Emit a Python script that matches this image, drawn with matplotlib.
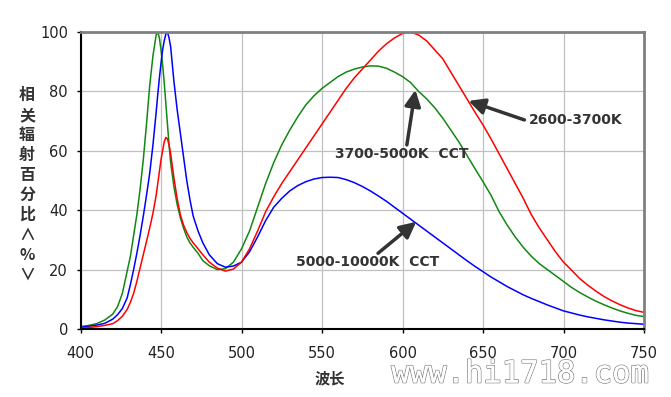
import matplotlib.pyplot as plt
import matplotlib.patheffects as pe

# wavelength grid (nm)
wl = [400, 405, 410, 415, 420, 423, 426, 429, 431, 433, 435, 437, 439, 441, 443, 445,
      447, 448, 449, 450, 451, 452, 453, 454, 455, 456, 458, 460, 462, 464, 466, 468,
      470, 473, 476, 480, 485, 490, 495, 500,
      505, 510, 515, 520, 525, 530, 535, 540, 545, 550, 555, 560, 565, 570, 575, 580,
      585, 590, 595, 600, 605, 610, 615, 620, 625, 630, 635, 640, 645, 650, 655, 660,
      665, 670, 675, 680, 685, 690, 695, 700, 705, 710, 715, 720, 725, 730, 735, 740,
      745, 750]

# 2600-3700K
red = [0.3, 0.5, 0.8, 1.2, 1.8, 2.8, 4.3, 6.6, 9, 12, 16, 20.5, 25, 29.5, 34, 39,
       45, 49, 53, 57, 60, 63, 64.5, 64, 62, 59, 51, 44, 38.5, 35, 32.5, 30.5,
       29, 27, 25, 22.5, 20.5, 19.5, 20.2, 22.5,
       27, 33, 39.5, 44.5, 49, 53, 57, 61, 65, 69, 73, 77, 81, 84.5, 87.5, 90.5,
       93.5, 96, 98, 99.5, 100, 99, 97, 94, 91, 86.5, 82, 77.5, 73, 68.7, 64, 59,
       54, 49, 44, 38.5, 34, 30, 26, 22.5, 19.8, 17, 14.8, 12.8, 11, 9.5, 8.2, 7.1,
       6.2, 5.6]

# 3700-5000K CCT
green = [0.8, 1.2, 1.8, 3.0, 5.0, 7.5, 12, 19.5, 24.5, 31.5, 38.5, 47, 57, 69, 82, 92,
         99, 100, 98, 94, 89, 83, 76, 69, 62, 56, 48, 42, 37.5, 34, 31, 29,
         27.5, 25.5, 23, 21.3, 20, 20.3, 22.5, 27,
         33, 41, 49, 56, 62, 67, 71.5, 75.5, 78.5, 81, 83, 85, 86.5, 87.5, 88.2, 88.6,
         88.5, 87.8, 86.5, 85, 83, 80, 77.5, 74.5, 71, 67, 63, 58.5, 54, 49.6, 45, 39.5,
         35, 31, 27.5, 24.5, 22, 20, 18, 16, 14, 12.3, 10.8, 9.4, 8.2, 7.1, 6.1, 5.3,
         4.6, 4.2]

# 5000-10000K CCT
blue = [0.6, 0.9, 1.3, 1.9, 3.3, 4.8, 6.9, 10.5, 15, 20, 25.5, 31.5, 38, 45, 52.5, 62,
        73, 79, 84.5, 89.5, 94, 97, 99.3, 100, 98, 95, 83.5, 74, 66, 58, 50, 43.5,
        38, 33, 29, 25, 22, 20.8, 21.2, 22.5,
        26, 31, 36.5, 41, 44, 46.5, 48.3, 49.6, 50.5, 51, 51.1, 51, 50.3, 49.3, 48, 46.5,
        44.8, 43, 41, 39, 37, 35, 33, 31, 29, 27, 25, 23, 21.1, 19.3, 17.5, 15.9,
        14.3, 12.9, 11.5, 10.3, 9.2, 8.1, 7.1, 6.1, 5.4, 4.7, 4.1, 3.6, 3.1, 2.7, 2.3, 2.0,
        1.8, 1.6]

xticks = [400, 450, 500, 550, 600, 650, 700, 750]
yticks = [0, 20, 40, 60, 80, 100]
ylabel_chars = ["相", "关", "辐", "射", "百", "分", "比", "∧", "%", "∨"]

cjk = ["Noto Sans CJK SC", "DejaVu Sans"]

fig = plt.figure(figsize=(6.71, 3.97), dpi=100)
ax = fig.add_axes([80.5 / 671, 1 - 329 / 397, (644 - 80.5) / 671, (329 - 32) / 397])

ax.plot(wl, green, color="#118811", lw=1.1)
ax.plot(wl, blue, color="#0000ff", lw=1.1)
ax.plot(wl, red, color="#ff0000", lw=1.1)

ax.set_xlim(400, 750)
ax.set_ylim(0, 100)
ax.set_xticks(xticks)
ax.set_yticks(yticks)
ax.grid(True, color="#c0c0c0", lw=0.9)
ax.set_axisbelow(True)
ax.tick_params(axis="both", direction="out", length=3, width=1, labelsize=10.5,
               labelcolor="#222222")
ax.tick_params(axis="y", pad=6)
ax.tick_params(axis="x", pad=9)
for s in ["left", "bottom"]:
    ax.spines[s].set_color("black")
    ax.spines[s].set_linewidth(1.5)
for s in ["top", "right"]:
    ax.spines[s].set_color("#808080")
    ax.spines[s].set_linewidth(2)

# curve labels with arrows
txt = dict(fontsize=10, fontweight="bold", color="#333333", va="center", ha="left")
arr = dict(arrowstyle="-|>,head_length=0.8,head_width=0.4", color="#333333", lw=2.5,
           mutation_scale=12, shrinkA=0, shrinkB=0)
ax.text(678.8, 70.4, "2600-3700K", **txt)
ax.annotate("", xy=(641, 76.8), xytext=(675.7, 70.4), arrowprops=arr)
ax.text(558.3, 58.8, "3700-5000K  CCT", **txt)
ax.annotate("", xy=(608, 80.5), xytext=(602.7, 62), arrowprops=arr)
ax.text(534.1, 22.7, "5000-10000K  CCT", **txt)
ax.annotate("", xy=(608.5, 36.1), xytext=(584.8, 25.5), arrowprops=arr)

# axis titles
fig.text(330 / 671, 1 - 378 / 397, "波长", family=cjk, fontsize=11, fontweight="bold",
         color="#333333", ha="center", va="center")
for i, ch in enumerate(ylabel_chars):
    fig.text(27 / 671, 1 - (95 + 20 * i) / 397, ch, family=cjk, fontsize=11.5,
             fontweight="bold", color="#333333", ha="center", va="center")

# watermark
fig.text(520 / 671, 1 - 374 / 397, "www.hi1718.com", family="DejaVu Sans Mono",
         fontsize=22, color="white", ha="center", va="center",
         path_effects=[pe.withStroke(linewidth=1.2, foreground="#888888"), pe.Normal()])

fig.savefig("out.png", dpi=100)
